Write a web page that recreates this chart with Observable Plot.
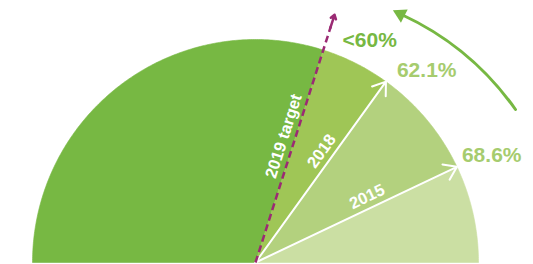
<!DOCTYPE html>
<html><head><meta charset="utf-8">
<script src="https://cdn.jsdelivr.net/npm/d3@7"></script>
<script src="https://cdn.jsdelivr.net/npm/@observablehq/plot@0.6"></script>
<style>body{margin:0;background:#fff} svg{display:block}</style>
</head><body><div id="chart"></div>
<script>
// ---- data ----
const years = ["2019 target", "2018", "2015"];
const shares = ["<60%", "62.1%", "68.6%"];
const angles = [72.3, 54.2, 25.4];           // position on the half-gauge, degrees from the right end
const segmentColors = ["#77b843", "#9fc656", "#b3d17e", "#cbdfa3"];
const valueColors = ["#77b843", "#a6cc6e", "#a6cc6e"];

// ---- layout ----
const W = 533, H = 264, CX = 255, CY = 262, R = 223;
const rad = d => d * Math.PI / 180;
const polar = (a, r) => ({x: r * Math.cos(rad(a)), y: r * Math.sin(rad(a))});

const bounds = [180, ...angles, 0];
const segPts = [];
for (let i = 0; i < segmentColors.length; i++) {
  const a0 = bounds[i], a1 = bounds[i + 1];
  segPts.push({seg: i, x: 0, y: 0});
  const n = Math.max(2, Math.ceil(Math.abs(a0 - a1) * 2));
  for (let k = 0; k <= n; k++) {
    const p = polar(a0 + (a1 - a0) * k / n, R);
    segPts.push({seg: i, ...p});
  }
  segPts.push({seg: i, x: 0, y: 0});
}

const tipR = [260, R, R];
const rows = years.map((y, i) => {
  const tip = polar(angles[i], tipR[i]);
  const along = polar(angles[i], 129);
  const perp = polar(angles[i] + 90, 11.5);
  return {year: y, share: shares[i], angle: angles[i], tx: tip.x, ty: tip.y,
          lx: along.x + perp.x, ly: along.y + perp.y, color: valueColors[i]};
});
const labelOffsets = [[8, 25], [11, -11], [5, -12]];
rows.forEach((d, i) => { d.vx = d.tx + labelOffsets[i][0]; d.vy = d.ty - labelOffsets[i][1]; });

const target = rows[0];
const dashEnd = polar(target.angle, 248);
const trend = [{x1: 260, y1: 153, x2: 146, y2: 248}];

const font = "'Liberation Sans', Arial, Helvetica, sans-serif";

const chart = Plot.plot({
  width: W, height: H,
  margin: 0,
  x: {domain: [-CX, W - CX], axis: null},
  y: {domain: [CY - H, CY], axis: null},
  color: {type: "identity"},
  style: {fontFamily: font, background: "#fff"},
  marks: [
    Plot.line(segPts, {x: "x", y: "y", z: "seg", fill: d => segmentColors[d.seg],
                       stroke: d => segmentColors[d.seg], strokeWidth: 0.6, curve: "linear"}),
    // white arrows for 2018 and 2015
    Plot.arrow(rows.slice(1), {x1: 0, y1: 0, x2: "tx", y2: "ty", stroke: "white",
                               strokeWidth: 2, headLength: 11, headAngle: 70}),
    // dashed target line
    Plot.link([target], {x1: 0, y1: 0, x2: () => dashEnd.x, y2: () => dashEnd.y,
                         stroke: "#9b2a74", strokeWidth: 2.5, strokeDasharray: "7,4"}),
    Plot.arrow([target], {x1: d => polar(d.angle, 246).x, y1: d => polar(d.angle, 246).y,
                          x2: "tx", y2: "ty", stroke: "#9b2a74", strokeWidth: 2.5,
                          headLength: 11, headAngle: 70}),
    // rotated year labels
    ...rows.map(d => Plot.text([d], {x: "lx", y: "ly", text: "year", fill: "white",
                                     fontSize: 16.5, fontWeight: "bold", rotate: -d.angle,
                                     textAnchor: "middle", lineAnchor: "middle"})),
    // value labels
    Plot.text(rows, {x: "vx", y: "vy", text: "share", fill: "color", fontSize: 21,
                     fontWeight: "bold", textAnchor: "start", lineAnchor: "middle"}),
    // curved trend arrow
    Plot.arrow(trend, {x1: "x1", y1: "y1", x2: "x2", y2: "y2", bend: -15, stroke: "#77b843",
                       strokeWidth: 3, headLength: 0}),
    Plot.dot(trend, {x: d => d.x2 - 1, y: d => d.y2 + 0.4, symbol: "triangle", r: 5.5,
                     fill: "#77b843", stroke: null, rotate: -63})
  ]
});
document.getElementById("chart").append(chart);
</script>
</body></html>
